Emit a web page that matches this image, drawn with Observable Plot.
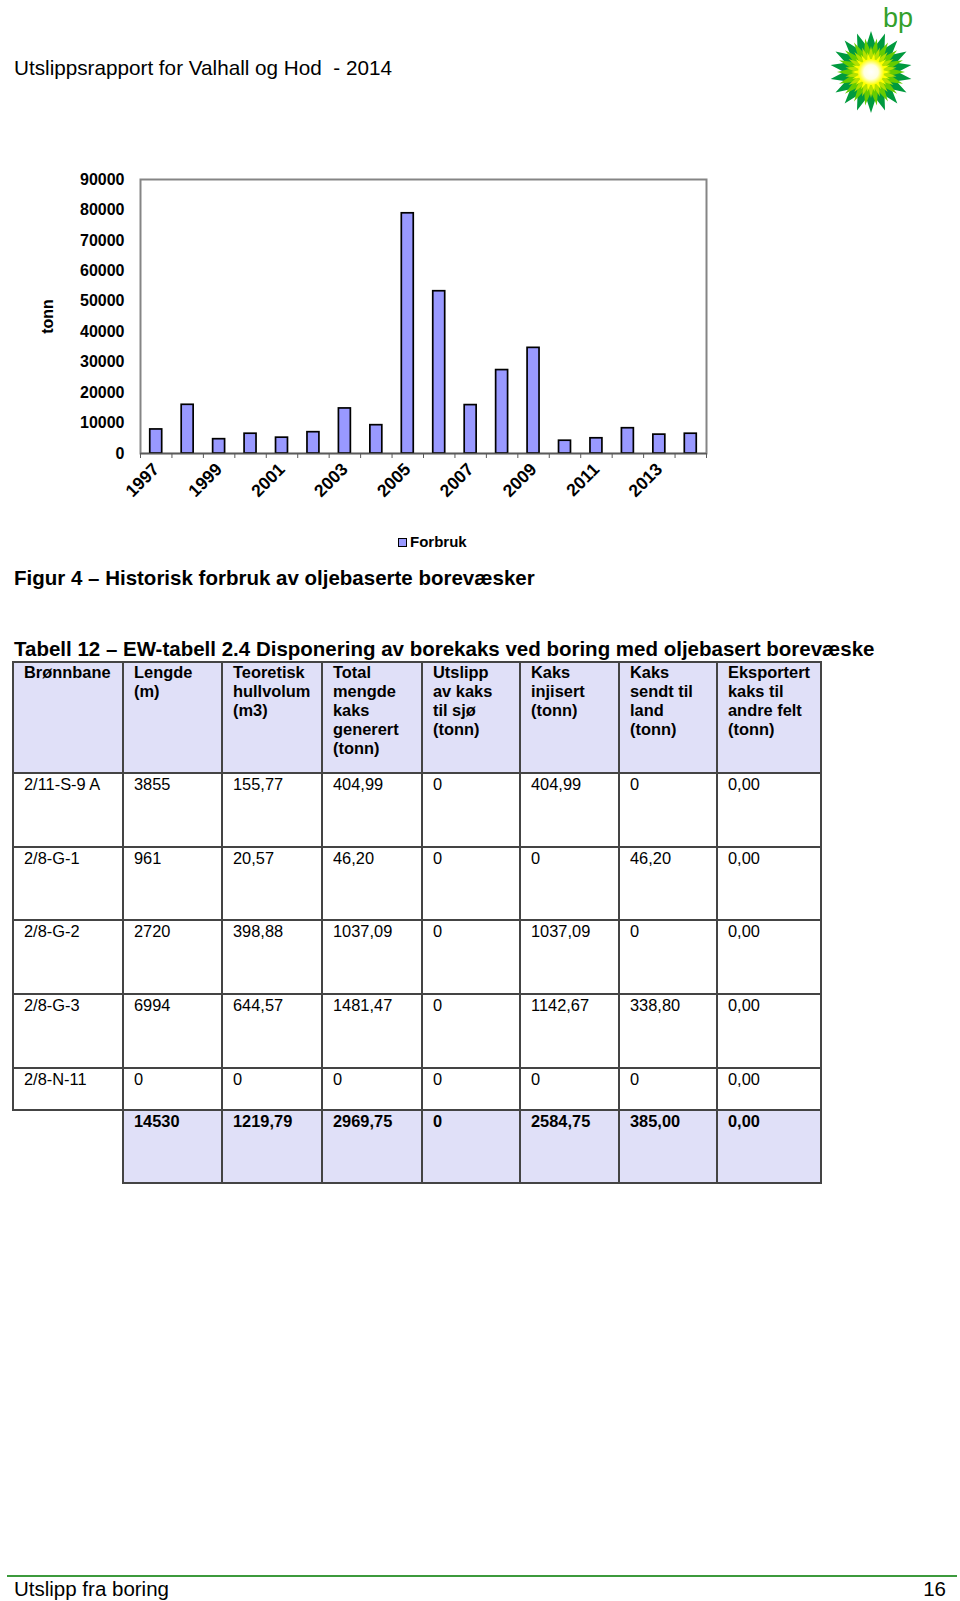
<!DOCTYPE html>
<html><head><meta charset="utf-8">
<script src="https://cdn.jsdelivr.net/npm/d3@7"></script>
<script src="https://cdn.jsdelivr.net/npm/@observablehq/plot@0.6"></script>
<style>
html,body{margin:0;padding:0;background:#fff;}
#page{position:relative;width:960px;height:1601px;overflow:hidden;font-family:Arial,"Liberation Sans",sans-serif;color:#000;background:#fff;}
.abs{position:absolute;white-space:pre;line-height:1;}
#chart{position:absolute;left:0;top:150px;}
#legend{position:absolute;left:398px;top:533px;font-size:15px;font-weight:bold;line-height:18px;display:flex;align-items:center;}
#legend .sw{width:7px;height:7px;background:#9999ff;border:1px solid #000;margin-right:3px;}
#tbl{position:absolute;left:12px;top:661px;border-collapse:collapse;table-layout:fixed;font-size:16.4px;}
#tbl td,#tbl th{border:2px solid #444;vertical-align:top;padding:1px 3px 0 10px;text-align:left;line-height:18.9px;overflow:hidden;}
#tbl th{background:#e0e0f8;font-weight:bold;padding-top:0;}
#tbl tr.total td{background:#e0e0f8;font-weight:bold;}
#tbl tr.total td.blank{background:#fff;border-left:none;border-bottom:none;}
#footline{position:absolute;left:7px;top:1575px;width:950px;height:2px;background:#3c9a3c;}
</style></head><body><div id="page">
<div class="abs" style="left:14px;top:58px;font-size:20.7px;">Utslippsrapport for Valhall og Hod&nbsp; - 2014</div>
<svg id="logo" style="position:absolute;left:820px;top:0;" width="110" height="120"></svg>
<div id="chart"></div>
<div id="legend"><div class="sw"></div><span>Forbruk</span></div>
<div class="abs" style="left:14px;top:568px;font-size:20.5px;font-weight:bold;">Figur 4 – Historisk forbruk av oljebaserte borevæsker</div>
<div class="abs" style="left:14px;top:639px;font-size:20.5px;font-weight:bold;">Tabell 12 – EW-tabell 2.4 Disponering av borekaks ved boring med oljebasert borevæske</div>
<table id="tbl"></table>
<div id="footline"></div>
<div class="abs" style="left:14px;top:1579px;font-size:20.5px;">Utslipp fra boring</div>
<div class="abs" style="right:14px;top:1579px;font-size:20.5px;">16</div>
</div>
<script>
// ---- chart data ----
const years = [1997,1998,1999,2000,2001,2002,2003,2004,2005,2006,2007,2008,2009,2010,2011,2012,2013,2014];
const forbruk = [7900,16000,4700,6500,5200,7000,14800,9300,78900,53300,15900,27400,34700,4200,5000,8300,6200,6500];
const yTicks = [0,10000,20000,30000,40000,50000,60000,70000,80000,90000];
const labelYears = [1997,1999,2001,2003,2005,2007,2009,2011,2013];
const seriesName = "Forbruk";
const yLabel = "tonn";

// ---- table data ----
const tableHeaders = ["Brønnbane","Lengde\n(m)","Teoretisk\nhullvolum\n(m3)","Total\nmengde\nkaks\ngenerert\n(tonn)","Utslipp\nav kaks\ntil sjø\n(tonn)","Kaks\ninjisert\n(tonn)","Kaks\nsendt til\nland\n(tonn)","Eksportert\nkaks til\nandre felt\n(tonn)"];
const wells = ["2/11-S-9 A","2/8-G-1","2/8-G-2","2/8-G-3","2/8-N-11"];
const lengde = ["3855","961","2720","6994","0"];
const hullvolum = ["155,77","20,57","398,88","644,57","0"];
const totalKaks = ["404,99","46,20","1037,09","1481,47","0"];
const utslippSjo = ["0","0","0","0","0"];
const injisert = ["404,99","0","1037,09","1142,67","0"];
const sendtLand = ["0","46,20","0","338,80","0"];
const eksportert = ["0,00","0,00","0,00","0,00","0,00"];
const totals = ["","14530","1219,79","2969,75","0","2584,75","385,00","0,00"];

const data = years.map((y,i)=>({year:y, value:forbruk[i]}));
const boundaries = years.map(y=>y-0.5).concat([years[years.length-1]+0.5]);

const chart = Plot.plot({
  width: 720, height: 380,
  marginTop: 29, marginLeft: 140, marginRight: 14, marginBottom: 77,
  style: {fontFamily: 'Arial, "Liberation Sans", sans-serif', fontSize: "16px", fontWeight: "bold", color: "#000", background: "transparent"},
  x: {domain: [years[0]-0.5, years[years.length-1]+0.5]},
  y: {domain: [0, 90000]},
  marks: [
    Plot.frame({stroke: "#858585", strokeWidth: 2}),
    Plot.rectY(data, {x1: d=>d.year-0.19, x2: d=>d.year+0.19, y1: 0, y2: "value", fill: "#9999ff", stroke: "#000", strokeWidth: 1.7}),
    Plot.ruleY([0], {stroke: "#5a5a5a", strokeWidth: 1.5}),
    Plot.axisY({ticks: yTicks, tickSize: 0, tickPadding: 16, tickFormat: "d", label: yLabel, labelAnchor: "center", labelArrow: "none", labelOffset: 99}),
    Plot.axisX({ticks: boundaries, tickSize: 5, stroke: "#5a5a5a", tickFormat: () => "", label: null}),
    Plot.axisX({ticks: labelYears, tickSize: 0, tickPadding: 13, tickRotate: -45, tickFormat: "d", fontSize: 17.5, label: null})
  ]
});
document.getElementById("chart").appendChild(chart);

// ---- table ----
const tbl = d3.select("#tbl");
const colW = [110,99,100,100,98,99,98,104];
tbl.append("colgroup").selectAll("col").data(colW).join("col").style("width", d=>d+"px");
const rowH = [111,73.6,73.4,73.7,74.3,42.5,73];
const hr = tbl.append("tr").style("height", rowH[0]+"px");
hr.selectAll("th").data(tableHeaders).join("th").html(d=>d.split("\n").join("<br>"));
const rows = wells.map((w,i)=>[w,lengde[i],hullvolum[i],totalKaks[i],utslippSjo[i],injisert[i],sendtLand[i],eksportert[i]]);
rows.forEach((r,i)=>{
  const tr = tbl.append("tr").style("height", rowH[i+1]+"px");
  tr.selectAll("td").data(r).join("td").text(d=>d);
});
const trT = tbl.append("tr").attr("class","total").style("height", rowH[6]+"px");
trT.selectAll("td").data(totals).join("td").attr("class",(d,i)=>i===0?"blank":null).text(d=>d);

// ---- logo ----
const logo = d3.select("#logo");
const defs = logo.append("defs");
const rg = defs.append("radialGradient").attr("id","core");
rg.append("stop").attr("offset","0%").attr("stop-color","#ffffff");
rg.append("stop").attr("offset","55%").attr("stop-color","#ffffe0");
rg.append("stop").attr("offset","100%").attr("stop-color","#ffff00");
const cx = 51, cy = 72;
function star(n, rOut, rIn, rot){
  const pts=[];
  for(let k=0;k<2*n;k++){
    const a = rot + k*Math.PI/n - Math.PI/2;
    const r = k%2===0 ? rOut : rIn;
    pts.push([cx + r*Math.cos(a), cy + r*Math.sin(a)]);
  }
  return pts.map(p=>p.join(",")).join(" ");
}
logo.append("polygon").attr("points", star(18, 41, 27, 0)).attr("fill","#009a3e");
logo.append("polygon").attr("points", star(18, 34, 20, Math.PI/18)).attr("fill","#66cc00");
logo.append("polygon").attr("points", star(18, 26, 15, 0)).attr("fill","#b5e000");
logo.append("polygon").attr("points", star(18, 20, 11, Math.PI/18)).attr("fill","#ffff00");
logo.append("circle").attr("cx",cx).attr("cy",cy).attr("r",13).attr("fill","url(#core)");
logo.append("text").attr("x",63).attr("y",27).attr("font-family",'Arial, "Liberation Sans", sans-serif').attr("font-size",27).attr("fill","#33a02c").text("bp");
</script>
</body></html>
